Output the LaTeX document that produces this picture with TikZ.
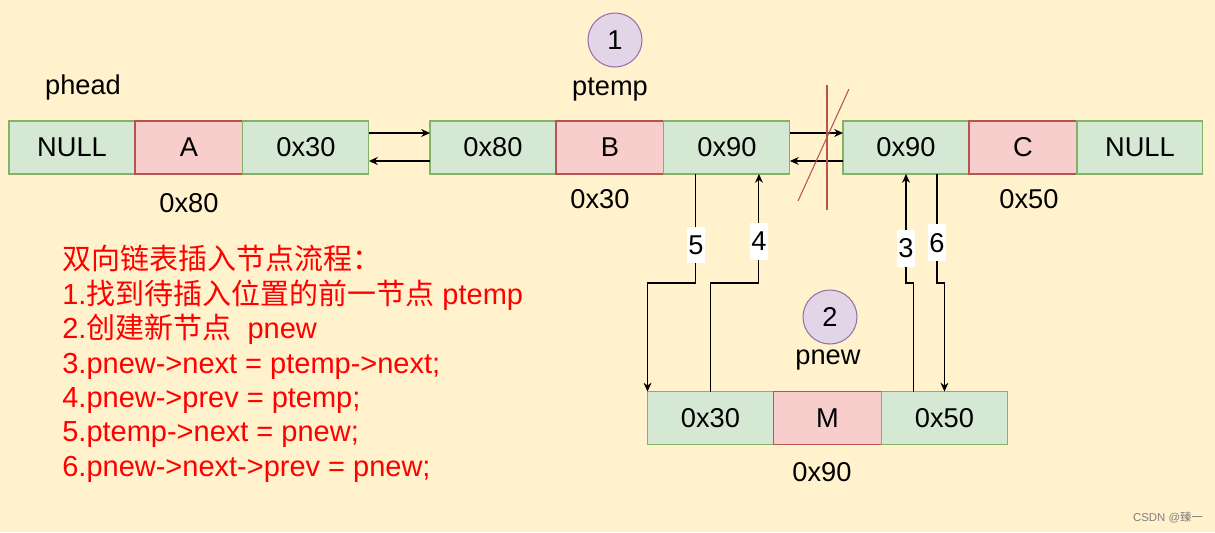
\documentclass[tikz,border=0pt]{standalone}
\usepackage{fontspec}
\setmainfont{Liberation Sans}
\newfontfamily\cjk{Noto Sans CJK SC}
\usetikzlibrary{arrows.meta, positioning}
\definecolor{bgyellow}{HTML}{FFF2CC}
\definecolor{ptrfill}{HTML}{D5E8D4}
\definecolor{ptrline}{HTML}{82B366}
\definecolor{datafill}{HTML}{F8CECC}
\definecolor{dataline}{HTML}{B85450}
\definecolor{stepfill}{HTML}{E1D5E7}
\definecolor{stepline}{HTML}{9673A6}
\tikzset{
  cell/.style={draw, line width=0.6pt, minimum height=1.06cm, inner sep=0pt, outer sep=0pt, font=\fontsize{15.5}{18}\selectfont},
  ptrcell/.style={cell, fill=ptrfill, draw=ptrline, minimum width=2.52cm},
  datacell/.style={cell, fill=datafill, draw=dataline, minimum width=2.16cm},
  link/.style={-{Stealth[length=5pt,width=4.5pt]}, line width=0.6pt},
  cut/.style={draw=dataline, line width=0.6pt},
  tag/.style={fill=white, inner xsep=1pt, inner ysep=5pt, font=\fontsize{15.5}{18}\selectfont},
  lbl/.style={font=\fontsize{15.5}{18}\selectfont},
  stepmark/.style={circle, draw=stepline, fill=stepfill, line width=0.6pt, minimum size=1.08cm, inner sep=0pt, font=\fontsize{15.5}{18}\selectfont}
}

\begin{document}
\begin{tikzpicture}[x=0.02cm, y=-0.02cm]
  \fill[bgyellow] (0,0) rectangle (1215,532);

  % node A
  \node[ptrcell] (a1) at (72,147.5) {NULL};
  \node[datacell, right=0pt of a1] (a2) {A};
  \node[ptrcell, right=0pt of a2] (a3) {0x30};

  % node B
  \node[ptrcell] (b1) at (493,147.5) {0x80};
  \node[datacell, right=0pt of b1] (b2) {B};
  \node[ptrcell, right=0pt of b2] (b3) {0x90};

  % node C
  \node[ptrcell] (c1) at (906,147.5) {0x90};
  \node[datacell, right=0pt of c1] (c2) {C};
  \node[ptrcell, right=0pt of c2] (c3) {NULL};

  % new node M
  \node[ptrcell] (m1) at (710.5,418) {0x30};
  \node[datacell, right=0pt of m1] (m2) {M};
  \node[ptrcell, right=0pt of m2] (m3) {0x50};

  % names and addresses
  \node[lbl] (phead) at (83,87) {phead};
  \node[lbl] (ptemp) at (610,90) {ptemp};
  \node[lbl] (pnew) at (828,360) {pnew};
  \node[lbl] (addra) at (189,203) {0x80};
  \node[lbl] (addrb) at (600,199) {0x30};
  \node[lbl] (addrc) at (1029,199) {0x50};
  \node[lbl] (addrm) at (822,472) {0x90};

  \node[stepmark] (s1) at (615,40) {1};
  \node[stepmark] (s2) at (830,317) {2};

  % old links
  \draw[link] ([yshift=0.29cm]a3.east) -- ([yshift=0.29cm]b1.west);
  \draw[link] ([yshift=-0.27cm]b1.west) -- ([yshift=-0.27cm]a3.east);
  \draw[link] ([yshift=0.29cm]b3.east) -- ([yshift=0.29cm]c1.west);
  \draw[link] ([yshift=-0.27cm]c1.west) -- ([yshift=-0.27cm]b3.east);

  % broken link
  \coordinate (cuttop) at (827,85);
  \coordinate (cutbot) at (827,210);
  \coordinate (slashtop) at (849,89);
  \coordinate (slashbot) at (798,201);
  \draw[cut] (cuttop) -- (cutbot);
  \draw[cut] (slashtop) -- (slashbot);

  % new links
  \coordinate (mid) at (0,283);
  \draw[link] ([xshift=-0.62cm]b3.south) -- node[tag, pos=0.65] {5} ([xshift=-0.62cm]b3.south |- mid) -| ([xshift=-1.26cm]m1.north);
  \draw[link] (m1.north) -- (m1.north |- mid) -| node[tag, pos=0.69] {4} ([xshift=0.64cm]b3.south);
  \draw[link] ([xshift=-0.62cm]m3.north) -- ([xshift=-0.62cm]m3.north |- mid) -| node[tag, pos=0.66] {3} (c1.south);
  \draw[link] ([xshift=0.62cm]c1.south) -- node[tag, pos=0.63] {6} ([xshift=0.62cm]c1.south |- mid) -| (m3.north);

  % steps
  \node[anchor=north west, inner sep=0pt, align=left, text=red, font=\fontsize{16.5}{19.6}\selectfont] (steps) at (62,245)
    {{\cjk 双向链表插入节点流程：}\\
     1.{\cjk 找到待插入位置的前一节点} ptemp\\
     2.{\cjk 创建新节点}\ \ pnew\\
     3.pnew->next = ptemp->next;\\
     4.pnew->prev = ptemp;\\
     5.ptemp->next = pnew;\\
     6.pnew->next->prev = pnew;};

  \node[text=gray, font=\fontsize{6.5}{8}\selectfont] (mark) at (1168,517) {CSDN @{\cjk 臻一}};
\end{tikzpicture}
\end{document}
